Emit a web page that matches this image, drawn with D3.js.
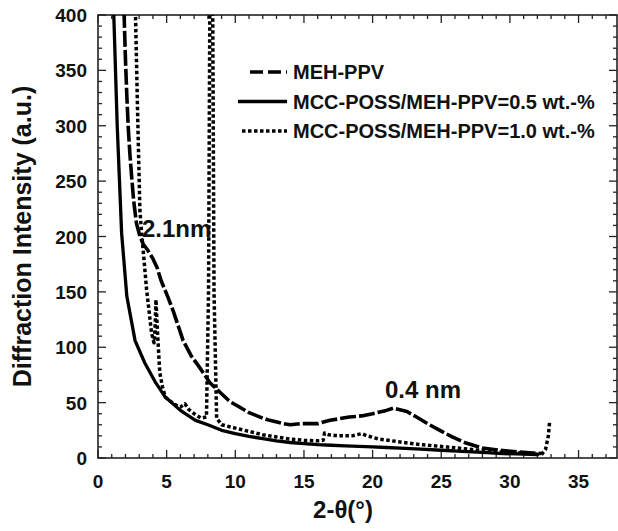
<!DOCTYPE html>
<html>
<head>
<meta charset="utf-8">
<script src="https://cdn.jsdelivr.net/npm/d3@7"></script>
<style>
	body { margin: 0; background: #fff; overflow: hidden; }
	svg { display: block; }
	text { font-family: "Liberation Sans", Arial, Helvetica, sans-serif; font-weight: bold; fill: #111; }
</style>
</head>
<body>
<svg id="xrd-chart"></svg>
<script>

/* data: 2-theta (deg) and intensity (a.u.) */
var mehX = [1.85, 1.92, 2.0, 2.09, 2.2, 2.32, 2.45, 2.6, 2.8, 3.06, 3.3, 3.6, 4.0, 4.3, 4.6, 5.1, 5.5, 6.2, 6.8, 7.5, 8.15, 9.0, 9.6, 10.3, 11.0, 12.0, 12.5, 13.5, 14.0, 14.7, 16.0, 16.9, 18.3, 19.2, 20.0, 21.0, 21.5, 22.5, 23.2, 24.0, 24.9, 25.8, 26.8, 28.0, 29.3, 30.5, 31.7, 32.3];
var mehY = [420, 393, 360, 330, 299, 275, 254, 232, 212, 200, 193, 188, 180, 172, 160, 145, 132, 106, 92, 80, 68, 58, 51, 46, 41, 36, 34, 31, 30, 31, 31, 34, 37, 38, 40, 43, 45, 42, 37, 31, 25, 19, 13.5, 9, 7, 5.5, 4.5, 4];

var poss05X = [1.1, 1.4, 1.72, 2.1, 2.7, 3.4, 4.2, 4.9, 6.0, 7.1, 8.0, 9.0, 10.0, 11.0, 12.0, 13.0, 14.0, 15.0, 16.0, 17.0, 18.0, 19.0, 20.0, 21.0, 22.0, 23.5, 25.0, 26.5, 28.0, 29.5, 31.0, 32.0];
var poss05Y = [420, 300, 203, 146, 106, 86, 68, 55, 43, 34, 30, 25, 22, 19.5, 17.5, 15.5, 14, 13, 12, 11.5, 11, 10.5, 10, 9.5, 9, 8, 7, 6, 5, 4, 3.5, 3];

var poss10X = [2.7, 2.74, 2.88, 3.05, 3.2, 3.35, 3.54, 3.9, 4.08, 4.15, 4.22, 4.35, 4.5, 4.7, 4.9, 5.5, 6.0, 6.33, 6.6, 7.0, 7.5, 7.9, 8.05, 8.15, 8.35, 8.45, 8.64, 9.0, 10.0, 11.0, 12.0, 13.0, 14.0, 15.0, 16.0, 16.4, 16.5, 16.8, 17.5, 18.5, 19.2, 19.6, 20.5, 22.0, 23.5, 25.4, 27.0, 28.5, 30.0, 31.5, 32.3, 32.6, 32.8, 32.9];
var poss10Y = [420, 395, 314, 224, 200, 179, 152, 113, 104, 115, 143, 110, 77, 64, 55, 49, 46, 49, 44, 40, 36, 37, 150, 420, 420, 150, 36, 30, 27, 24, 21, 19, 17, 16, 15.5, 16, 22.5, 21, 20, 20, 22, 20, 17, 14.5, 12, 10, 8, 6, 5, 4, 3, 8, 20, 34];

var seriesNames = ["MEH-PPV", "MCC-POSS/MEH-PPV=0.5 wt.-%", "MCC-POSS/MEH-PPV=1.0 wt.-%"];
var xTickValues = [0, 5, 10, 15, 20, 25, 30, 35];
var yTickValues = [0, 50, 100, 150, 200, 250, 300, 350, 400];
var annotations = [{ text: "2.1nm", x: 3.2, y: 200 }, { text: "0.4 nm", x: 20.9, y: 54 }];

/* initial settings */
var width = 618,
	height = 531,
	margin = { top: 15, bottom: 73, left: 98, right: 1 },
	innerWidth = width - margin.left - margin.right,
	innerHeight = height - margin.top - margin.bottom,
	majorTick = 8,
	minorTick = 4;

var styles = [
	{ dash: "16,3", width: 3.6 },
	{ dash: null, width: 3.3 },
	{ dash: "3.5,2.5", width: 3.5 }
];

function zip(xs, ys) {
	return xs.map(function(v, i) { return { x: v, y: ys[i] }; });
}
var series = [zip(mehX, mehY), zip(poss05X, poss05Y), zip(poss10X, poss10Y)];

var svg = d3.select("#xrd-chart")
	.attr("width", width)
	.attr("height", height);

var g = svg.append("g")
	.attr("transform", "translate(" + margin.left + "," + margin.top + ")");

/* scales */
var xScale = d3.scaleLinear().domain([0, 37.8]).range([0, innerWidth]);
var yScale = d3.scaleLinear().domain([0, 400]).range([innerHeight, 0]);

var xMinor = d3.range(0, 38, 1);
var yMinor = d3.range(0, 401, 10);

/* axes, ticks pointing inwards on all four sides */
function tickSize(v, step) { return v % step === 0 ? majorTick : minorTick; }

g.append("g").attr("class", "x-minor")
	.selectAll("line").data(xMinor).enter().append("line")
	.attr("x1", function(d) { return xScale(d); })
	.attr("x2", function(d) { return xScale(d); })
	.attr("y1", innerHeight)
	.attr("y2", function(d) { return innerHeight - tickSize(d, 5); });

g.append("g").attr("class", "x-minor-top")
	.selectAll("line").data(xMinor).enter().append("line")
	.attr("x1", function(d) { return xScale(d); })
	.attr("x2", function(d) { return xScale(d); })
	.attr("y1", 0)
	.attr("y2", function(d) { return tickSize(d, 5); });

g.append("g").attr("class", "y-minor")
	.selectAll("line").data(yMinor).enter().append("line")
	.attr("y1", function(d) { return yScale(d); })
	.attr("y2", function(d) { return yScale(d); })
	.attr("x1", 0)
	.attr("x2", function(d) { return tickSize(d, 50); });

g.append("g").attr("class", "y-minor-right")
	.selectAll("line").data(yMinor).enter().append("line")
	.attr("y1", function(d) { return yScale(d); })
	.attr("y2", function(d) { return yScale(d); })
	.attr("x1", innerWidth)
	.attr("x2", function(d) { return innerWidth - tickSize(d, 50); });

g.selectAll(".x-minor line, .x-minor-top line, .y-minor line, .y-minor-right line")
	.attr("stroke", "#222")
	.attr("stroke-width", 1.3);

g.append("rect")
	.attr("width", innerWidth)
	.attr("height", innerHeight)
	.attr("fill", "none")
	.attr("stroke", "#222")
	.attr("stroke-width", 1.6);

/* tick labels */
g.append("g").selectAll("text").data(xTickValues).enter().append("text")
	.attr("x", function(d) { return xScale(d); })
	.attr("y", innerHeight + 30)
	.attr("text-anchor", "middle")
	.style("font-size", "19px")
	.text(function(d) { return d; });

g.append("g").selectAll("text").data(yTickValues).enter().append("text")
	.attr("x", -11)
	.attr("y", function(d) { return yScale(d) + 7; })
	.attr("text-anchor", "end")
	.style("font-size", "19px")
	.text(function(d) { return d; });

/* axis titles */
g.append("text")
	.attr("x", 245)
	.attr("y", innerHeight + 60)
	.attr("text-anchor", "middle")
	.style("font-size", "24px")
	.text("2-\u03b8(\u00b0)");

g.append("text")
	.attr("transform", "translate(" + (-67) + "," + (innerHeight / 2) + ") rotate(-90)")
	.attr("text-anchor", "middle")
	.style("font-size", "25px")
	.text("Diffraction Intensity (a.u.)");

/* lines */
g.append("clipPath").attr("id", "plot-clip")
	.append("rect")
	.attr("width", innerWidth)
	.attr("height", innerHeight);

var line = d3.line()
	.x(function(d) { return xScale(d.x); })
	.y(function(d) { return yScale(d.y); });

g.append("g")
	.attr("clip-path", "url(#plot-clip)")
	.selectAll("path").data(series).enter().append("path")
	.attr("fill", "none")
	.attr("stroke", "#000")
	.attr("stroke-linejoin", "round")
	.attr("stroke-width", function(d, i) { return styles[i].width; })
	.attr("stroke-dasharray", function(d, i) { return styles[i].dash; })
	.attr("d", line);

/* annotations */
g.append("g").selectAll("text").data(annotations).enter().append("text")
	.attr("x", function(d) { return xScale(d.x); })
	.attr("y", function(d) { return yScale(d.y); })
	.style("font-size", "24px")
	.text(function(d) { return d.text; });

/* legend */
var legend = g.append("g")
	.attr("transform", "translate(0,57)");

var rows = legend.selectAll("g").data(seriesNames).enter().append("g")
	.attr("transform", function(d, i) { return "translate(0," + (i * 29.5) + ")"; });

rows.append("line")
	.attr("x1", function(d, i) { return [152, 140, 144][i]; })
	.attr("x2", 189)
	.attr("stroke", "#000")
	.attr("stroke-width", function(d, i) { return styles[i].width; })
	.attr("stroke-dasharray", function(d, i) { return i === 0 ? "13,5" : styles[i].dash; });

rows.append("text")
	.attr("x", 195)
	.attr("y", 7)
	.style("font-size", "20px")
	.text(function(d) { return d; });

</script>
</body>
</html>
